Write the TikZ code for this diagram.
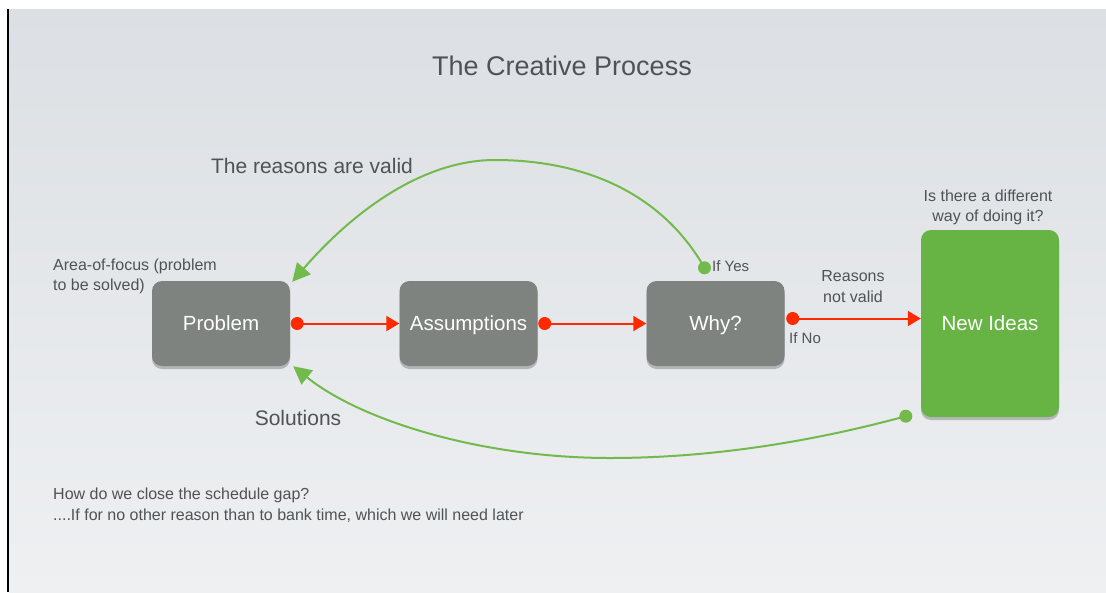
\documentclass[tikz,border=0pt]{standalone}
\usepackage{fontspec}
\setmainfont{Liberation Sans}
\usetikzlibrary{arrows.meta,shadows}

\definecolor{boxgray}{HTML}{7E8380}
\definecolor{ideagreen}{HTML}{67B445}
\definecolor{linegreen}{HTML}{72BA4C}
\definecolor{linered}{HTML}{FF2A00}
\definecolor{textgray}{HTML}{4F5356}

\tikzset{
  procbox/.style={rectangle, rounded corners=10pt, fill=boxgray, text=white,
    minimum width=138pt, minimum height=85pt, inner sep=0pt,
    text height=15pt, text depth=0.5pt,
    font=\fontsize{20.5}{24}\selectfont,
    drop shadow={shadow xshift=0pt, shadow yshift=-3pt, opacity=.22, fill=black}},
  note/.style={text=textgray, inner sep=0pt, font=\fontsize{16}{20.5}\selectfont},
  bignote/.style={text=textgray, inner sep=0pt, font=\fontsize{21}{25}\selectfont},
  redline/.style={linered, line width=2pt, -{Triangle[length=13pt,width=15pt]}},
  greenline/.style={linegreen, line width=2pt, -{Triangle[length=18pt,width=18pt]}},
}

\begin{document}
\begin{tikzpicture}[x=1pt,y=-1pt]
  \useasboundingbox (0,0) rectangle (1106,592);
  % page background
  \fill[white] (0,0) rectangle (1106,592);
  \shade[top color={rgb,255:red,220;green,223;blue,227}, bottom color={rgb,255:red,238;green,240;blue,242}]
    (9,9) rectangle (1106,592);
  \draw[black, line width=1.6pt] (8,9) -- (8,592);

  \node[text=textgray, inner sep=0pt, font=\fontsize{27}{30}\selectfont] (title) at (562,66) {The Creative Process};

  % process boxes
  \node[procbox] (problem) at (221,323.5) {Problem};
  \node[procbox] (assump) at (468.5,323.5) {Assumptions};
  \node[procbox] (why) at (715.5,323.5) {Why?};
  \node[procbox, fill=ideagreen, minimum height=187pt] (ideas) at (990,323.5) {New Ideas};

  % labels
  \node[note, anchor=west, align=left] (focus) at (53,276.5) {Area-of-focus (problem\\to be solved)};
  \node[note, align=center] (different) at (988,207.5) {Is there a different\\way of doing it?};
  \node[note, align=center] (notvalid) at (853,286.5) {Reasons\\not valid};
  \node[note, anchor=west, font=\fontsize{15}{18}\selectfont] (ifyes) at (712,266) {If Yes};
  \node[note, anchor=west, font=\fontsize{15}{18}\selectfont] (ifno) at (789,338) {If No};
  \node[bignote] (valid) at (312,166) {The reasons are valid};
  \node[bignote] (solutions) at (298,418) {Solutions};
  \node[note, anchor=west, align=left] (gap) at (53,505) {How do we close the schedule gap?\\
    ....If for no other reason than to bank time, which we will need later};

  % red flow
  \coordinate (p-out) at ([xshift=7pt]problem.east);
  \coordinate (a-out) at ([xshift=7pt]assump.east);
  \coordinate (w-out) at ([shift={(8,-5)}]why.east);
  \coordinate (i-in) at ([yshift=5pt]ideas.west);

  \fill[linered] (p-out) circle (6.5pt);
  \fill[linered] (a-out) circle (6.5pt);
  \fill[linered] (w-out) circle (6.5pt);
  \draw[redline] (p-out) -- (assump.west);
  \draw[redline] (a-out) -- (why.west);
  \draw[redline] (w-out) -- (i-in);

  % green loops back to the problem
  \coordinate (w-top) at ([shift={(-11,-13)}]why.north);
  \coordinate (i-low) at ([shift={(-15,-1)}]ideas.south west);

  \fill[linegreen] (w-top) circle (6.5pt);
  \fill[linegreen] (i-low) circle (6.5pt);
  \draw[greenline] (w-top) .. controls (660,190) and (580,160) .. (495,160)
    .. controls (420,160) and (350,215) .. ([shift={(2,1)}]problem.north east);
  \draw[greenline] (i-low) .. controls (800,445) and (700,458) .. (610,458)
    .. controls (480,458) and (360,420) .. ([xshift=3pt]problem.south east);
\end{tikzpicture}
\end{document}
